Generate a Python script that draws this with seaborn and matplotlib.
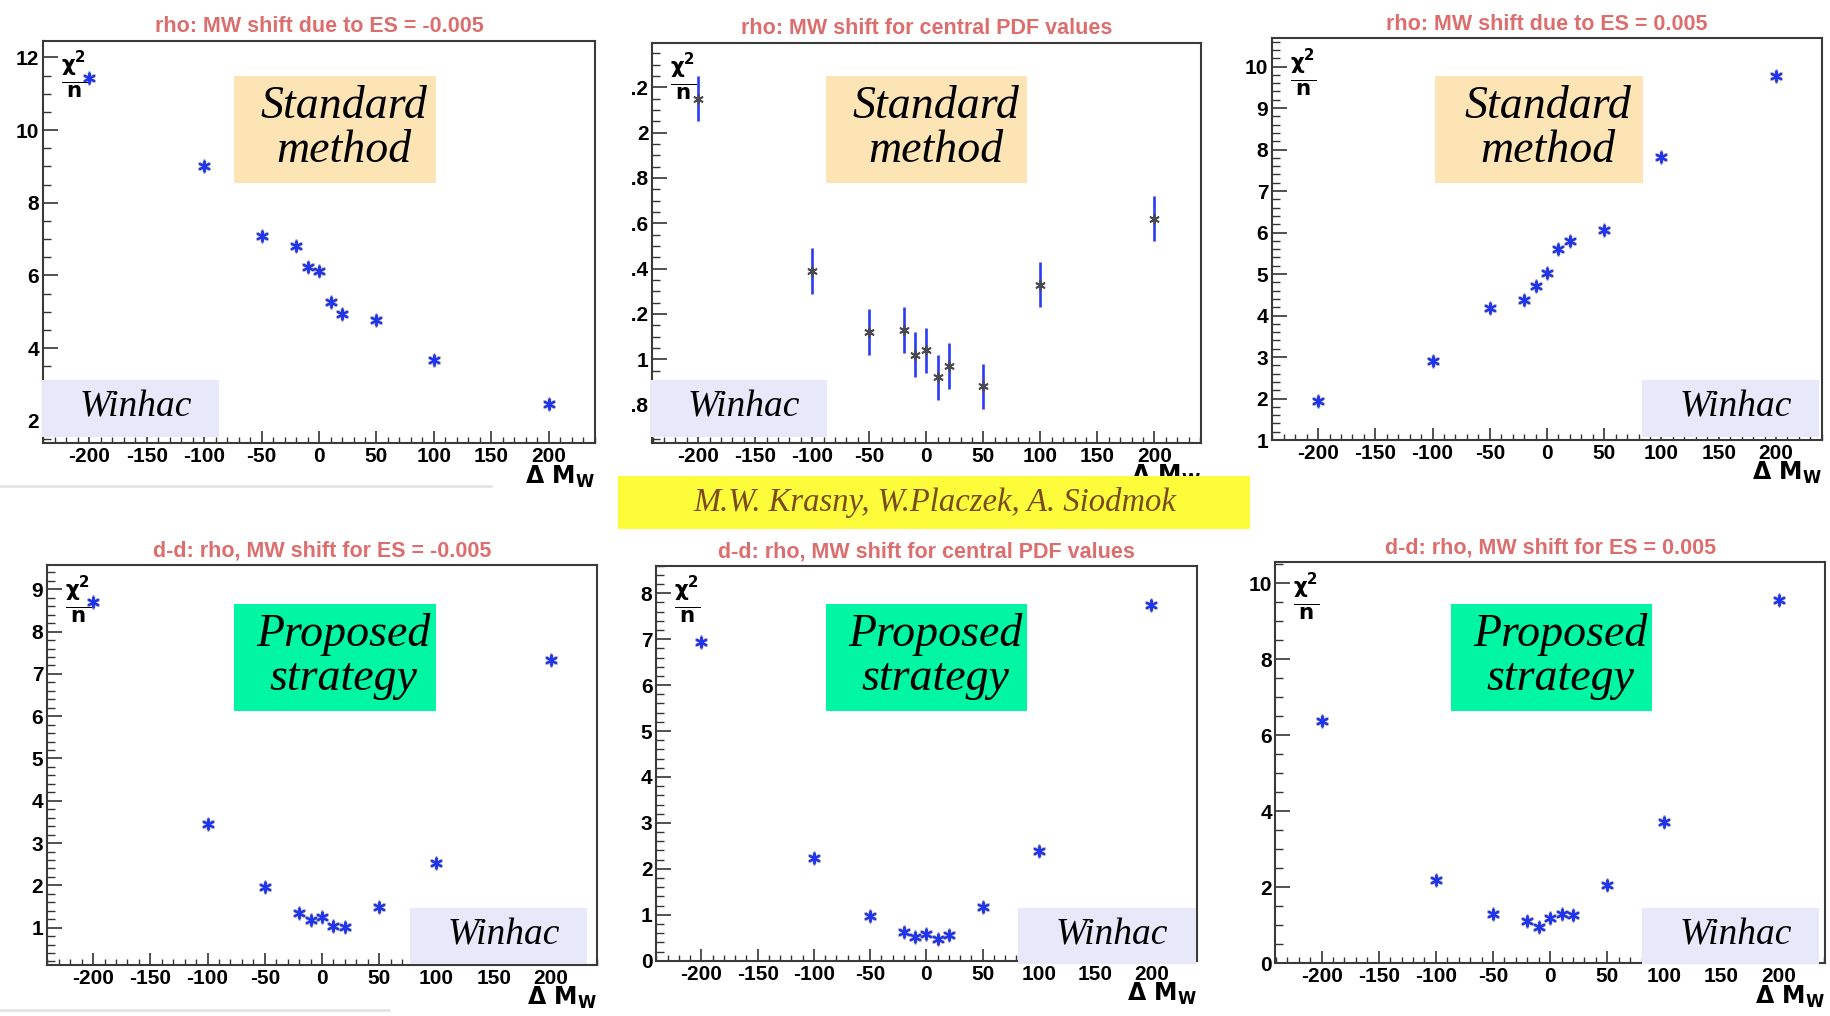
import matplotlib
matplotlib.use("Agg")
import matplotlib.pyplot as plt
import seaborn as sns
import pandas as pd
from matplotlib.patches import Rectangle
from matplotlib.lines import Line2D
from matplotlib.ticker import MultipleLocator, FuncFormatter
from matplotlib.transforms import Bbox

# ---------------- data ----------------
delta_mw = [-200, -100, -50, -20, -10, 0, 10, 20, 50, 100, 200]

chi2_std_es_minus = [11.42, 9.01, 7.08, 6.81, 6.24, 6.12, 5.28, 4.95, 4.78, 3.68, 2.47]
chi2_std_central = [2.15, 1.39, 1.12, 1.13, 1.02, 1.04, 0.92, 0.97, 0.88, 1.33, 1.62]
err_std_central = [0.10, 0.10, 0.10, 0.10, 0.10, 0.10, 0.10, 0.10, 0.10, 0.10, 0.10]
chi2_std_es_plus = [1.93, 2.91, 4.18, 4.38, 4.71, 5.02, 5.60, 5.79, 6.06, 7.83, 9.78]

chi2_dd_es_minus = [8.69, 3.44, 1.95, 1.34, 1.17, 1.26, 1.04, 1.01, 1.48, 2.54, 7.33]
chi2_dd_central = [6.93, 2.23, 0.97, 0.62, 0.51, 0.58, 0.47, 0.55, 1.17, 2.38, 7.75]
chi2_dd_es_plus = [6.37, 2.18, 1.30, 1.12, 0.95, 1.19, 1.30, 1.28, 2.06, 3.71, 9.56]

panel_titles = [
    "rho: MW shift due to ES = -0.005",
    "rho: MW shift for central PDF values",
    "rho: MW shift due to ES = 0.005",
    "d-d: rho, MW shift for ES = -0.005",
    "d-d: rho, MW shift for central PDF values",
    "d-d: rho, MW shift for ES = 0.005",
]
method_labels = [("Standard", "method")] * 3 + [("Proposed", "strategy")] * 3
generator_label = "Winhac"
authors_label = "M.W. Krasny, W.Placzek, A. Siodmok"
x_axis_label = r"$\Delta\ M_W$"
y_axis_label = r"$\frac{\chi^2}{n}$"

# ---------------- style ----------------
sns.set_theme(style="white")
plt.rcParams["font.family"] = ["Liberation Sans", "DejaVu Sans"]
plt.rcParams["font.weight"] = "bold"
plt.rcParams["axes.unicode_minus"] = False
plt.rcParams["mathtext.default"] = "bf"

W, H = 1831, 1016
fig = plt.figure(figsize=(W / 100, H / 100), dpi=100)
fig.patch.set_facecolor("white")

TITLE_COLOR = "#dc6e6e"
BLUE = "#1f34ee"
ERR_BLUE = "#2a3cf2"
STAR = (6, 2, 0)

# axes positions in pixels: (left, top, right, bottom)
axes_px = [
    (42.8, 40.7, 595.3, 443.3),
    (652.0, 42.7, 1200.7, 442.7),
    (1271.8, 38.3, 1822.3, 440.0),
    (46.7, 565.0, 597.3, 965.0),
    (655.9, 565.7, 1196.8, 960.7),
    (1275.3, 562.3, 1825.0, 963.3),
]
ylims = [(1.38, 12.46), (0.632, 2.397), (1.0, 10.68),
         (0.117, 9.575), (0.0, 8.60), (0.0, 10.55)]
ymajor = [2, 0.2, 1, 1, 1, 2]
yminor = [0.5, 0.05, 0.2, 0.2, 0.2, 0.5]
series = [chi2_std_es_minus, chi2_std_central, chi2_std_es_plus,
          chi2_dd_es_minus, chi2_dd_central, chi2_dd_es_plus]
errors = [None, err_std_central, None, None, None, None]

axes = []
for i in range(6):
    l, t, r, b = axes_px[i]
    ax = fig.add_axes([l / W, 1 - b / H, (r - l) / W, (b - t) / H])
    axes.append(ax)
    df = pd.DataFrame({"dm": delta_mw, "chi2": series[i]})
    if errors[i] is not None:
        ax.errorbar(df["dm"], df["chi2"], yerr=errors[i], fmt="none",
                    ecolor=ERR_BLUE, elinewidth=1.9, capsize=0, zorder=2)
        sns.scatterplot(data=df, x="dm", y="chi2", ax=ax, marker=STAR, s=42,
                        color="#4a4a55", linewidth=1.3, zorder=3, legend=False)
    else:
        sns.scatterplot(data=df, x="dm", y="chi2", ax=ax, marker=STAR, s=62,
                        color="#3c3c55", linewidth=2.4, alpha=0.4, zorder=2,
                        legend=False)
        sns.scatterplot(data=df, x="dm", y="chi2", ax=ax, marker=STAR, s=52,
                        color=BLUE, linewidth=1.4, zorder=3, legend=False)
    ax.set_xlabel("")
    ax.set_ylabel("")
    ax.set_xlim(-240.5, 240.5)
    ax.set_ylim(*ylims[i])
    ax.xaxis.set_major_locator(MultipleLocator(50))
    ax.xaxis.set_minor_locator(MultipleLocator(10))
    ax.yaxis.set_major_locator(MultipleLocator(ymajor[i]))
    ax.yaxis.set_minor_locator(MultipleLocator(yminor[i]))
    fmt = FuncFormatter(lambda v, p: f"{round(v, 6):g}")
    ax.xaxis.set_major_formatter(fmt)
    ax.yaxis.set_major_formatter(fmt)
    ax.tick_params(axis="both", which="both", direction="in", top=False,
                   right=False, bottom=True, left=True, color="#333333",
                   labelcolor="black")
    ax.tick_params(axis="y", which="major", length=11, width=1.2, pad=2.5,
                   labelsize=15)
    ax.tick_params(axis="y", which="minor", length=6, width=1.0)
    ax.tick_params(axis="x", which="major", length=8.5, width=1.2, pad=3,
                   labelsize=15)
    ax.tick_params(axis="x", which="minor", length=4.5, width=1.0)
    for sp in ax.spines.values():
        sp.set_visible(True)
        sp.set_color("#3a3a3a")
        sp.set_linewidth(1.5)
    ax.set_title(panel_titles[i], color=TITLE_COLOR, fontsize=15.5,
                 fontweight="bold", pad=6)
    ax.text(0.033, 0.978, y_axis_label, transform=ax.transAxes, ha="left",
            va="top", fontsize=22, color="black")
    ax.text(1.0, -0.05, x_axis_label, transform=ax.transAxes, ha="right",
            va="top", fontsize=17, color="black")


def fig_rect(x0, y0, x1, y1, color, z=10):
    fig.add_artist(Rectangle((x0 / W, 1 - y1 / H), (x1 - x0) / W, (y1 - y0) / H,
                             transform=fig.transFigure, facecolor=color,
                             edgecolor="none", zorder=z))


def fig_txt(x, y, s, size, color="black", z=11):
    fig.text(x / W, 1 - y / H, s, ha="center", va="baseline", fontsize=size,
             color=color, family="Liberation Serif", style="italic",
             weight="normal", zorder=z)


# slide artefact lines
fig.add_artist(Line2D([0, 491 / W], [1 - 486 / H] * 2, color="#e3e3e3", lw=2,
                      transform=fig.transFigure, zorder=1))
fig.add_artist(Line2D([0, 389 / W], [1 - 1010 / H] * 2, color="#e3e3e3", lw=2,
                      transform=fig.transFigure, zorder=1))

# method boxes (x0, y0, x1, y1) in pixels
method_boxes = [
    (233.5, 76, 435.8, 182.7), (826, 76, 1027.5, 182.7), (1434.8, 76, 1643.3, 182.7),
    (233.5, 604, 435.8, 710.7), (826, 604, 1027.5, 710.7), (1450.7, 604, 1652, 710.7),
]
method_colors = ["#fde4b5"] * 3 + ["#00f6a2"] * 3
for (x0, y0, x1, y1), (l1, l2), c in zip(method_boxes, method_labels, method_colors):
    fig_rect(x0, y0, x1, y1, c)
    cx = (x0 + x1) / 2 + 9
    fig_txt(cx, y0 + 42.5, l1, 33)
    fig_txt(cx, y0 + 86.5, l2, 33)

winhac_boxes = [
    (42, 380, 218.7, 436.7), (650, 380, 826.7, 436.7), (1642, 380, 1819, 436.7),
    (409.7, 907.7, 586.8, 964.3), (1017.8, 907.7, 1195.6, 964.3), (1642, 907.7, 1819, 964.3),
]
for x0, y0, x1, y1 in winhac_boxes:
    fig_rect(x0, y0, x1, y1, "#e8e8fb")
    fig_txt((x0 + x1) / 2 + 5, y0 + 37, generator_label, 27)

# author banner
fig_rect(618.3, 476, 1250.5, 529, "#fdfc3a", z=12)
fig_txt(934.4, 511.5, authors_label, 23.5, color="#7a4b1e", z=13)

# clip the y tick labels of the top-middle panel as in the reference
fig.canvas.draw()
ax2 = axes[1]
left_px = ax2.get_window_extent().x0
clip = Bbox.from_extents(left_px - 20, 0, fig.bbox.width, fig.bbox.height)
for lbl in ax2.get_yticklabels():
    lbl.set_clip_box(clip)
    lbl.set_clip_on(True)

fig.savefig("out.png", dpi=100)
